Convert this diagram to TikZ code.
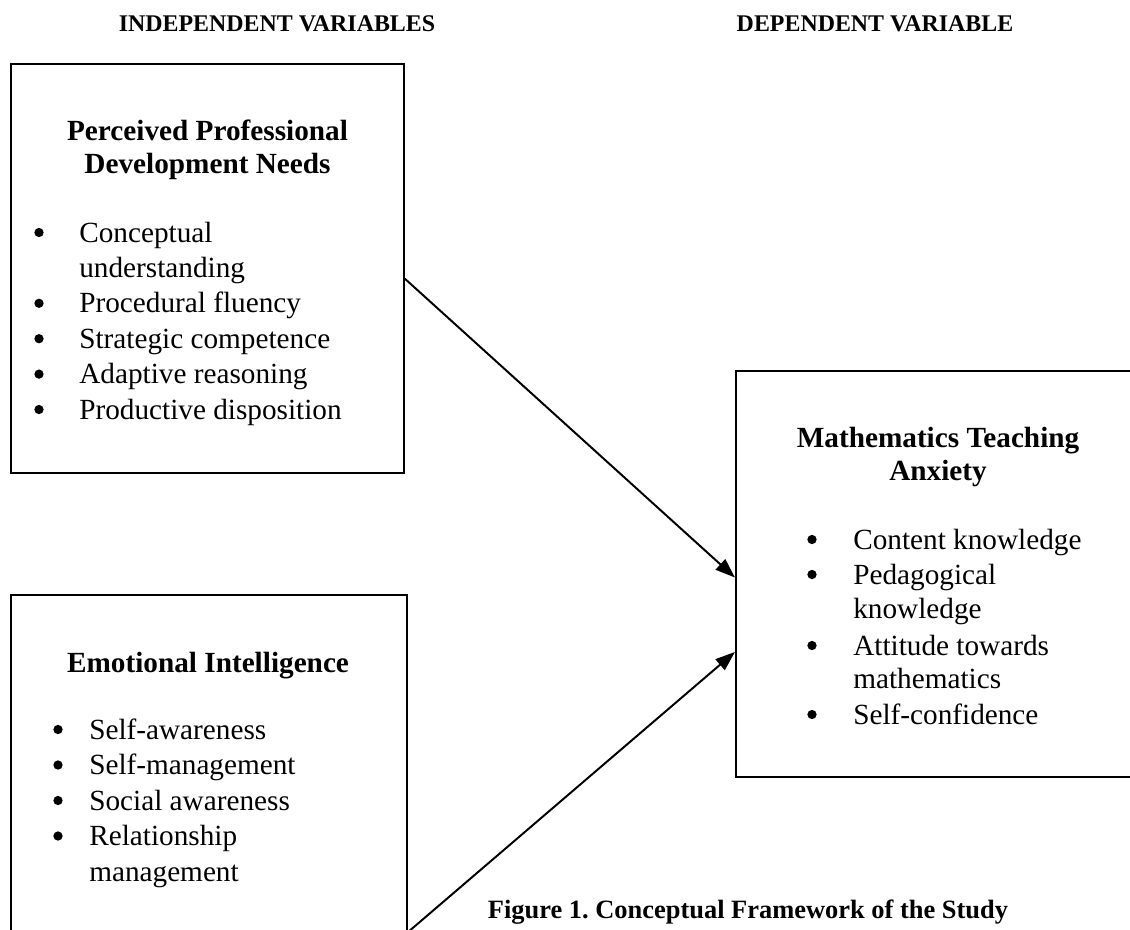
\documentclass[tikz,border=0pt]{standalone}
\usepackage{fontspec}
\setmainfont{Liberation Serif}
\usetikzlibrary{arrows.meta}

\begin{document}
\begin{tikzpicture}[line cap=round,line join=round,>={Triangle[length=14pt,width=10pt]},x=0.025cm,y=-0.025cm,
	frame/.style={draw,line width=1.4pt,line cap=butt,line join=miter,inner sep=0pt},
	head/.style={font=\fontsize{17}{20}\selectfont\bfseries,anchor=base,inner sep=0pt},
	title/.style={font=\fontsize{20.8}{25}\selectfont\bfseries,anchor=base,inner sep=0pt},
	item/.style={font=\fontsize{20.8}{25}\selectfont,anchor=base west,inner sep=0pt},
	dot/.style={circle,fill,inner sep=0pt,minimum size=6.6pt},
	link/.style={->,line width=1.4pt}]
		\useasboundingbox (0,0) rectangle (1130,929);
		\clip (0,0) rectangle (1130,929);
		% headings
		\node[head] (indep) at (277,31) {INDEPENDENT VARIABLES};
		\node[head] (dep) at (875,31) {DEPENDENT VARIABLE};
		% boxes
		\node[frame,minimum width=9.825cm,minimum height=10.225cm] (ppd) at (207.5,268.5) {};
		\node[frame,minimum width=9.9cm,minimum height=8.4cm] (ei) at (209,763) {};
		\node[frame,minimum width=10.1cm,minimum height=10.15cm] (mta) at (938,574) {};
		% perceived professional development needs
		\node[title] (ppdtop) at (207.5,140) {Perceived Professional};
		\node[title] (ppdbot) at (207.5,173) {Development Needs};
		\foreach \txt [count=\i from 0] in {Conceptual,understanding,Procedural fluency,Strategic competence,Adaptive reasoning,Productive disposition}
			\node[item] (ppd-\i) at (79,242+35.4*\i) {\txt};
		\foreach \i in {0,2,3,4,5}
			\node[dot] (ppddot-\i) at (39,232.5+35.4*\i) {};
		% emotional intelligence
		\node[title] (eitop) at (208,672) {Emotional Intelligence};
		\foreach \txt [count=\i from 0] in {Self-awareness,Self-management,Social awareness,Relationship,management}
			\node[item] (ei-\i) at (89,739+35.5*\i) {\txt};
		\foreach \i in {0,1,2,3}
			\node[dot] (eidot-\i) at (58,729.5+35.5*\i) {};
		% mathematics teaching anxiety
		\node[title] (mtatop) at (938,447) {Mathematics Teaching};
		\node[title] (mtabot) at (938,480) {Anxiety};
		\foreach \yy/\txt [count=\i] in {549/Content knowledge,584/Pedagogical,618/knowledge,655/Attitude towards,688/mathematics,724/Self-confidence}
			\node[item] (mta-\i) at (853,\yy) {\txt};
		\foreach \yy [count=\i] in {549,584,655,724}
			\node[dot] (mtadot-\i) at (812,\yy-9.5) {};
		% arrows
		\draw[link] (ppd.-3.9) -- (mta.181.1);
		\draw[link] (ei.south east) -- (mta.201.1);
		% caption
		\node[head,font=\fontsize{18.8}{22}\selectfont\bfseries] (cap) at (748,918) {Figure 1.\ Conceptual Framework of the Study};
	\end{tikzpicture}
\end{document}
